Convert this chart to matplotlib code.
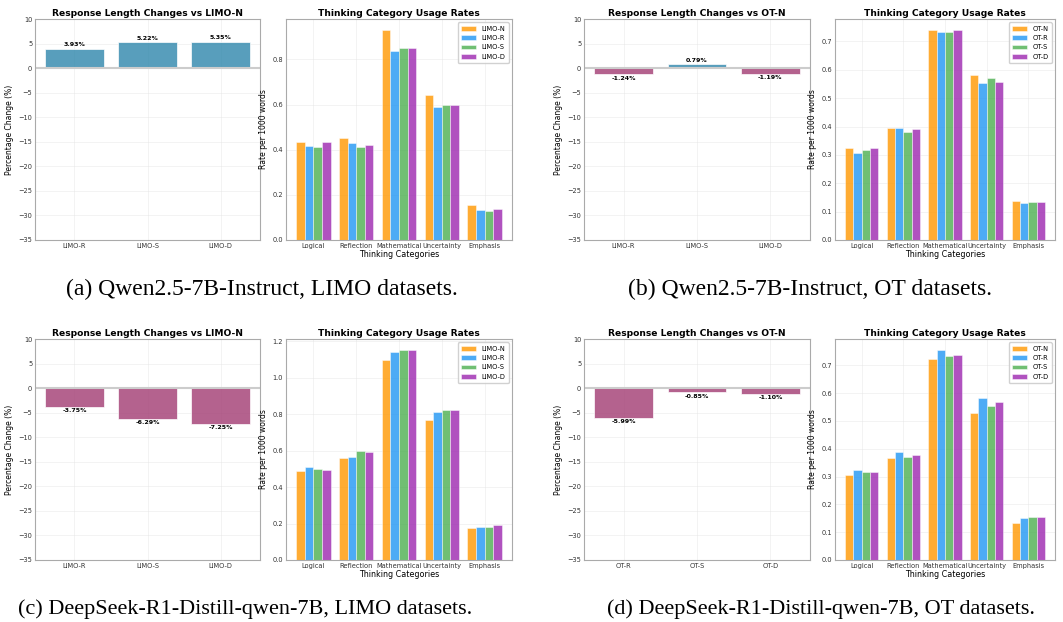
import numpy as np
import matplotlib.pyplot as plt

# --- Data ---
categories = ['Logical', 'Reflection', 'Mathematical', 'Uncertainty', 'Emphasis']

limo_names = ['LIMO-N', 'LIMO-R', 'LIMO-S', 'LIMO-D']
ot_names = ['OT-N', 'OT-R', 'OT-S', 'OT-D']

# (a) Qwen2.5-7B-Instruct, LIMO
len_a_labels = ['LIMO-R', 'LIMO-S', 'LIMO-D']
len_a = [3.93, 5.22, 5.35]
rate_a = [
    [0.435, 0.452, 0.932, 0.642, 0.155],   # LIMO-N
    [0.415, 0.428, 0.837, 0.588, 0.135],   # LIMO-R
    [0.410, 0.412, 0.850, 0.596, 0.128],   # LIMO-S
    [0.435, 0.421, 0.850, 0.596, 0.137],   # LIMO-D
]

# (b) Qwen2.5-7B-Instruct, OT
len_b_labels = ['LIMO-R', 'LIMO-S', 'LIMO-D']
len_b = [-1.24, 0.79, -1.19]
rate_b = [
    [0.325, 0.394, 0.742, 0.580, 0.138],
    [0.306, 0.394, 0.734, 0.554, 0.132],
    [0.316, 0.380, 0.734, 0.570, 0.134],
    [0.326, 0.393, 0.742, 0.558, 0.134],
]

# (c) DeepSeek-R1-Distill-qwen-7B, LIMO
len_c_labels = ['LIMO-R', 'LIMO-S', 'LIMO-D']
len_c = [-3.75, -6.29, -7.25]
rate_c = [
    [0.490, 0.557, 1.095, 0.767, 0.175],
    [0.508, 0.566, 1.140, 0.810, 0.180],
    [0.502, 0.600, 1.150, 0.822, 0.183],
    [0.495, 0.591, 1.155, 0.821, 0.190],
]

# (d) DeepSeek-R1-Distill-qwen-7B, OT
len_d_labels = ['OT-R', 'OT-S', 'OT-D']
len_d = [-5.99, -0.85, -1.10]
rate_d = [
    [0.304, 0.366, 0.723, 0.530, 0.132],
    [0.324, 0.390, 0.757, 0.583, 0.150],
    [0.316, 0.372, 0.734, 0.555, 0.153],
    [0.316, 0.376, 0.739, 0.568, 0.154],
]

captions = [
    '(a) Qwen2.5-7B-Instruct, LIMO datasets.',
    '(b) Qwen2.5-7B-Instruct, OT datasets.',
    '(c) DeepSeek-R1-Distill-qwen-7B, LIMO datasets.',
    '(d) DeepSeek-R1-Distill-qwen-7B, OT datasets.',
]

# --- Style ---
POS_COLOR = '#2E86AB'
NEG_COLOR = '#A23B72'
GROUP_COLORS = ['#FF9800', '#2196F3', '#4CAF50', '#9C27B0']
SPINE = '#aaaaaa'

W, H = 1063, 622
fig = plt.figure(figsize=(W / 100, H / 100), dpi=100)


def px_axes(x0, y0, x1, y1):
    # pixel box (top-left origin) -> figure axes
    return fig.add_axes([x0 / W, 1 - y1 / H, (x1 - x0) / W, (y1 - y0) / H])


def style(ax):
    ax.set_facecolor('white')
    for s in ax.spines.values():
        s.set_color(SPINE)
        s.set_linewidth(0.8)
    ax.grid(True, color='#e4e4e4', alpha=0.6, linewidth=0.5)
    ax.set_axisbelow(True)
    ax.tick_params(labelsize=4.8, length=0, pad=2, colors='#333333')


def length_plot(ax, labels, vals, ref):
    x = np.arange(len(labels))
    colors = [POS_COLOR if v > 0 else NEG_COLOR for v in vals]
    ax.bar(x, vals, color=colors, alpha=0.8, edgecolor='white', linewidth=0.6)
    ax.axhline(0, color='#cccccc', linewidth=1.5, zorder=1)
    for xi, v in zip(x, vals):
        if v > 0:
            ax.text(xi, v + 0.3, f'{v:.2f}%', ha='center', va='bottom',
                    fontsize=4.5, fontweight='bold')
        else:
            ax.text(xi, v - 0.3, f'{v:.2f}%', ha='center', va='top',
                    fontsize=4.5, fontweight='bold')
    ax.set_ylim(-35, 10)
    ax.set_xticks(x)
    ax.set_xticklabels(labels)
    ax.set_ylabel('Percentage Change (%)', fontsize=5.5, labelpad=3)
    ax.set_title(f'Response Length Changes vs {ref}', fontsize=6.6,
                 fontweight='bold', pad=2)
    style(ax)


def rate_plot(ax, names, rates):
    x = np.arange(len(categories))
    w = 0.2
    for i, (name, r) in enumerate(zip(names, rates)):
        ax.bar(x + (i - 1.5) * w, r, w, label=name, color=GROUP_COLORS[i],
               alpha=0.8, edgecolor='white', linewidth=0.4)
    ax.set_xticks(x)
    ax.set_xticklabels(categories)
    ax.set_xlabel('Thinking Categories', fontsize=5.8, labelpad=1)
    ax.set_ylabel('Rate per 1000 words', fontsize=5.5, labelpad=3)
    ax.set_title('Thinking Category Usage Rates', fontsize=6.6,
                 fontweight='bold', pad=2)
    ax.legend(loc='upper right', fontsize=4.8, framealpha=0.9,
              edgecolor='#cccccc', handlelength=2.2, borderpad=0.5,
              labelspacing=0.5)
    style(ax)


rows = [(19, 240), (339, 560)]
panels = [
    (len_a_labels, len_a, 'LIMO-N', limo_names, rate_a, 35, 260, 286, 512),
    (len_b_labels, len_b, 'OT-N', ot_names, rate_b, 584, 810, 835, 1055),
    (len_c_labels, len_c, 'LIMO-N', limo_names, rate_c, 35, 260, 286, 512),
    (len_d_labels, len_d, 'OT-N', ot_names, rate_d, 584, 810, 835, 1055),
]

for k, (ll, lv, ref, names, rates, a0, a1, b0, b1) in enumerate(panels):
    y0, y1 = rows[k // 2]
    ax1 = px_axes(a0, y0, a1, y1)
    length_plot(ax1, ll, lv, ref)
    ax2 = px_axes(b0, y0, b1, y1)
    rate_plot(ax2, names, rates)

cap_pos = [(262, 289), (810, 289), (245, 609), (821, 609)]
cap_size = [17, 17, 16, 16]
for cap, (cx, cy), fs in zip(captions, cap_pos, cap_size):
    fig.text(cx / W, 1 - cy / H, cap, ha='center', va='center',
             fontsize=fs, family='Liberation Serif')

fig.savefig('out.png', dpi=100)
